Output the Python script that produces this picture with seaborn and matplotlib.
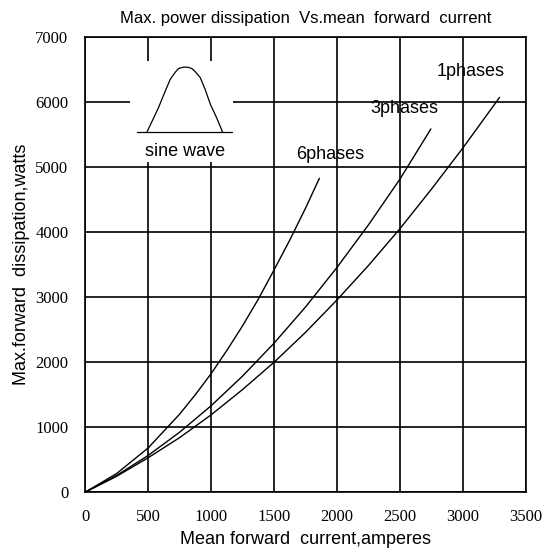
import numpy as np
import pandas as pd
import matplotlib
matplotlib.use('Agg')
import matplotlib.pyplot as plt
import seaborn as sns

# curve readings (mean forward current in A, dissipation in W)
x_1ph = [0, 250, 500, 750, 1000, 1250, 1500, 1750, 2000, 2250, 2500, 2750, 3000, 3290]
y_1ph = [0, 245, 530, 840, 1190, 1580, 2000, 2460, 2960, 3490, 4057, 4665, 5300, 6075]

x_3ph = [0, 250, 500, 750, 1000, 1250, 1500, 1750, 2000, 2250, 2500, 2745]
y_3ph = [0, 258, 565, 923, 1330, 1787, 2293, 2851, 3460, 4115, 4820, 5590]

x_6ph = [0, 250, 500, 750, 875, 1000, 1125, 1250, 1375, 1500, 1625, 1750, 1860]
y_6ph = [0, 287, 680, 1200, 1500, 1823, 2180, 2560, 2970, 3420, 3880, 4371, 4830]

curve_labels = ['1phases', '3phases', '6phases']
label_x = [3063, 2534, 1949]
label_y = [6481, 5901, 5197]

# sine wave icon outline
icon_x = [491, 540, 583, 630, 676, 715, 742, 770, 795, 822, 849, 880, 915, 955, 995, 1045, 1092]
icon_y = [5541, 5740, 5917, 6140, 6352, 6460, 6518, 6536, 6542, 6536, 6518, 6460, 6379, 6190, 5968, 5760, 5541]
base_x = [414, 1169]
base_y = [5541, 5541]

x_ticks = [0, 500, 1000, 1500, 2000, 2500, 3000, 3500]
y_ticks = [0, 1000, 2000, 3000, 4000, 5000, 6000, 7000]

sns.set_style('white')
plt.rcParams['font.family'] = ['Liberation Sans', 'DejaVu Sans']
plt.rcParams['text.color'] = 'black'
plt.rcParams['axes.labelcolor'] = 'black'
plt.rcParams['xtick.color'] = 'black'
plt.rcParams['ytick.color'] = 'black'

fig = plt.figure(figsize=(5.46, 5.55), dpi=100)
ax = fig.add_axes([0.1557, 0.113, 0.8077, 0.8198])

df = pd.concat([
    pd.DataFrame({'current': x_1ph, 'power': y_1ph, 'curve': '1phases'}),
    pd.DataFrame({'current': x_3ph, 'power': y_3ph, 'curve': '3phases'}),
    pd.DataFrame({'current': x_6ph, 'power': y_6ph, 'curve': '6phases'}),
])
for name, grp in df.groupby('curve'):
    sns.lineplot(data=grp, x='current', y='power', ax=ax, color='black',
                 linewidth=1.0, sort=False, estimator=None, zorder=4)

for lab, lx, ly in zip(curve_labels, label_x, label_y):
    ax.text(lx, ly, lab, ha='center', va='center', fontsize=13, zorder=5)

# white box behind the sine wave icon
ax.add_patch(plt.Rectangle((358, 5089), 819, 1541, facecolor='white',
                           edgecolor='none', zorder=3))
ax.plot(icon_x, icon_y, color='black', linewidth=0.9, zorder=4)
ax.plot(base_x, base_y, color='black', linewidth=0.9, zorder=4)
ax.text(795, 5246, 'sine wave', ha='center', va='center', fontsize=13, zorder=5)

ax.set_xlim(0, 3500)
ax.set_ylim(0, 7000)
ax.set_xticks(x_ticks)
ax.set_yticks(y_ticks)
ax.grid(True, color='black', linewidth=1.2, zorder=1)
ax.set_axisbelow(True)
for sp in ax.spines.values():
    sp.set_color('black')
    sp.set_linewidth(1.2)
ax.tick_params(length=0, pad=12, labelsize=12)
for t in ax.get_xticklabels() + ax.get_yticklabels():
    t.set_family(['Liberation Serif', 'DejaVu Serif'])

ax.set_xlabel('Mean forward  current,amperes', fontsize=13, labelpad=4)
ax.set_ylabel('Max.forward  dissipation,watts', fontsize=13, labelpad=4)
ax.set_title('Max. power dissipation  Vs.mean  forward  current', fontsize=12,
             pad=10, family=['Liberation Sans Narrow', 'Liberation Sans', 'DejaVu Sans'])

fig.savefig('out.png', dpi=100, facecolor='white')
